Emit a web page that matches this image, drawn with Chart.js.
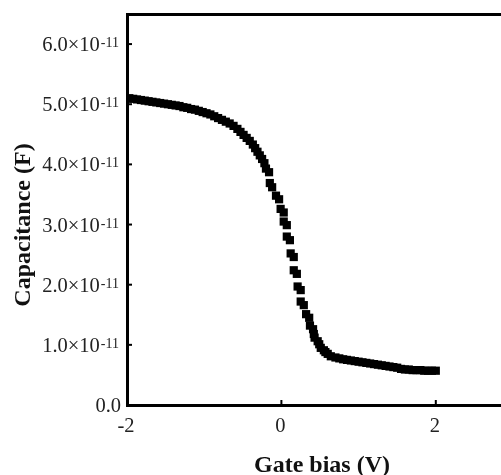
<!DOCTYPE html>
<html lang="en">

<head>
    <meta charset="UTF-8">
    <script src="https://cdn.jsdelivr.net/npm/chart.js@4"></script>
    <title>C-V</title>
    <style>
        html, body {
            margin: 0;
            padding: 0;
            overflow: hidden;
            background: #fff;
        }
    </style>
</head>

<body>
    <canvas id="grafico_cv" width="530" height="475"></canvas>

<script>
    // tensão de porta (V)
    const vies = [
        -1.97, -1.92, -1.87, -1.82, -1.77, -1.72, -1.67, -1.62, -1.57, -1.52,
        -1.47, -1.42, -1.37, -1.32, -1.27, -1.22, -1.17, -1.12, -1.07, -1.02,
        -0.97, -0.92, -0.87, -0.82, -0.77, -0.72, -0.67, -0.62, -0.57, -0.53,
        -0.49, -0.45, -0.41, -0.37, -0.34, -0.31, -0.28, -0.25, -0.22,
        -0.20, -0.16, -0.15, -0.12, -0.07, -0.03, -0.01, 0.03, 0.03, 0.07,
        0.07, 0.11, 0.12, 0.16, 0.16, 0.20, 0.21, 0.25, 0.25, 0.29,
        0.32, 0.36, 0.37, 0.41, 0.42, 0.43, 0.47, 0.49, 0.51, 0.55,
        0.57, 0.60, 0.64,
        0.70, 0.75, 0.80, 0.85, 0.90, 0.95, 1.00, 1.05, 1.10, 1.15,
        1.20, 1.25, 1.30, 1.35, 1.40, 1.45, 1.50, 1.55, 1.60, 1.65,
        1.70, 1.75, 1.80, 1.85, 1.90, 1.95, 2.00
    ];

    // capacitância medida (F)
    const capacitancia = [
        5.10e-11, 5.09e-11, 5.08e-11, 5.07e-11, 5.06e-11, 5.05e-11, 5.04e-11, 5.03e-11, 5.02e-11, 5.01e-11,
        5.00e-11, 4.99e-11, 4.98e-11, 4.97e-11, 4.95e-11, 4.94e-11, 4.92e-11, 4.91e-11, 4.89e-11, 4.87e-11,
        4.85e-11, 4.83e-11, 4.80e-11, 4.77e-11, 4.74e-11, 4.71e-11, 4.68e-11, 4.64e-11, 4.59e-11, 4.54e-11,
        4.49e-11, 4.44e-11, 4.39e-11, 4.33e-11, 4.27e-11, 4.21e-11, 4.15e-11, 4.09e-11, 4.02e-11,
        3.93e-11, 3.87e-11, 3.69e-11, 3.62e-11, 3.48e-11, 3.42e-11, 3.26e-11, 3.20e-11, 3.05e-11, 2.99e-11,
        2.80e-11, 2.74e-11, 2.52e-11, 2.46e-11, 2.24e-11, 2.18e-11, 1.97e-11, 1.91e-11, 1.72e-11, 1.66e-11,
        1.51e-11, 1.45e-11, 1.32e-11, 1.26e-11, 1.18e-11, 1.12e-11, 1.06e-11, 1.01e-11, 0.95e-11, 0.91e-11,
        0.88e-11, 0.85e-11, 0.81e-11,
        0.79e-11, 0.775e-11, 0.76e-11, 0.75e-11, 0.74e-11, 0.73e-11, 0.72e-11, 0.71e-11, 0.70e-11, 0.69e-11,
        0.68e-11, 0.67e-11, 0.66e-11, 0.65e-11, 0.64e-11, 0.63e-11, 0.62e-11, 0.60e-11, 0.59e-11, 0.59e-11,
        0.58e-11, 0.58e-11, 0.58e-11, 0.57e-11, 0.57e-11, 0.57e-11, 0.57e-11
    ];

    const ticksX = [-2, 0, 2];
    const rotulosX = ['-2', '0', '2'];
    const ticksY = [0, 1e-11, 2e-11, 3e-11, 4e-11, 5e-11, 6e-11];
    const rotulosY = ['0.0', '1.0\u00d710', '2.0\u00d710', '3.0\u00d710', '4.0\u00d710', '5.0\u00d710', '6.0\u00d710'];
    const expoentesY = ['', '-11', '-11', '-11', '-11', '-11', '-11'];

    const tituloX = 'Gate bias (V)';
    const tituloY = 'Capacitance (F)';

    const pontos = vies.map((v, i) => ({ x: v, y: capacitancia[i] }));

    // desenha tracinhos internos, rótulos com expoente e títulos dos eixos
    const rotulos = {
        id: 'rotulos',
        afterDraw(chart) {
            const ctx = chart.ctx;
            const sx = chart.scales.x;
            const sy = chart.scales.y;
            const area = chart.chartArea;
            ctx.save();

            ctx.strokeStyle = '#000';
            ctx.lineWidth = 2;
            ticksX.forEach(v => {
                const px = sx.getPixelForValue(v);
                ctx.beginPath();
                ctx.moveTo(px, area.bottom);
                ctx.lineTo(px, area.bottom - 5);
                ctx.stroke();
            });
            ticksY.forEach(v => {
                const py = sy.getPixelForValue(v);
                ctx.beginPath();
                ctx.moveTo(area.left, py);
                ctx.lineTo(area.left + 5, py);
                ctx.stroke();
            });

            ctx.fillStyle = '#222';
            ctx.textBaseline = 'alphabetic';

            // eixo x
            ctx.font = '20.5px "Liberation Serif"';
            ctx.textAlign = 'center';
            ticksX.forEach((v, i) => {
                ctx.fillText(rotulosX[i], sx.getPixelForValue(v) - 1, area.bottom + 27);
            });

            // eixo y com expoente sobrescrito
            const direita = area.left - 8;
            ticksY.forEach((v, i) => {
                const py = sy.getPixelForValue(v);
                ctx.textAlign = 'right';
                ctx.font = '14px "Liberation Serif"';
                const wSup = expoentesY[i] ? ctx.measureText(expoentesY[i]).width : 0;
                if (expoentesY[i]) ctx.fillText(expoentesY[i], direita, py + 3);
                ctx.font = '20.5px "Liberation Serif"';
                ctx.fillText(rotulosY[i], direita - wSup - (wSup ? 1 : -2), py + 7);
            });

            // títulos
            ctx.fillStyle = '#111';
            ctx.font = 'bold 24px "Liberation Serif"';
            ctx.textAlign = 'center';
            ctx.fillText(tituloX, (area.left + area.right) / 2 + 2, 472);

            ctx.translate(30, 225);
            ctx.rotate(-Math.PI / 2);
            ctx.font = 'bold 24px "Liberation Serif"';
            ctx.fillText(tituloY, 0, 0);

            ctx.restore();
        }
    };

    const config = {
        type: 'scatter',
        data: {
            datasets: [{
                data: pontos,
                pointStyle: 'rect',
                pointRadius: 5.8,
                pointBorderWidth: 0,
                backgroundColor: '#000',
                borderColor: '#000',
                showLine: false
            }]
        },
        options: {
            responsive: false,
            animation: false,
            layout: {
                autoPadding: false,
                padding: { left: 119, top: 6, right: 17, bottom: 62 }
            },
            plugins: {
                legend: { display: false },
                tooltip: { enabled: false }
            },
            scales: {
                x: {
                    type: 'linear',
                    position: 'bottom',
                    min: -2,
                    max: 3,
                    grid: { display: false },
                    ticks: { display: false },
                    border: { display: true, color: '#000', width: 3 }
                },
                x2: {
                    type: 'linear',
                    position: 'top',
                    min: -2,
                    max: 3,
                    grid: { display: false },
                    ticks: { display: false },
                    border: { display: true, color: '#000', width: 3 }
                },
                y: {
                    type: 'linear',
                    min: 0,
                    max: 6.5e-11,
                    grid: { display: false },
                    ticks: { display: false },
                    border: { display: true, color: '#000', width: 3 }
                }
            }
        },
        plugins: [rotulos]
    };

    new Chart(document.getElementById('grafico_cv'), config);
</script>
</body>

</html>
